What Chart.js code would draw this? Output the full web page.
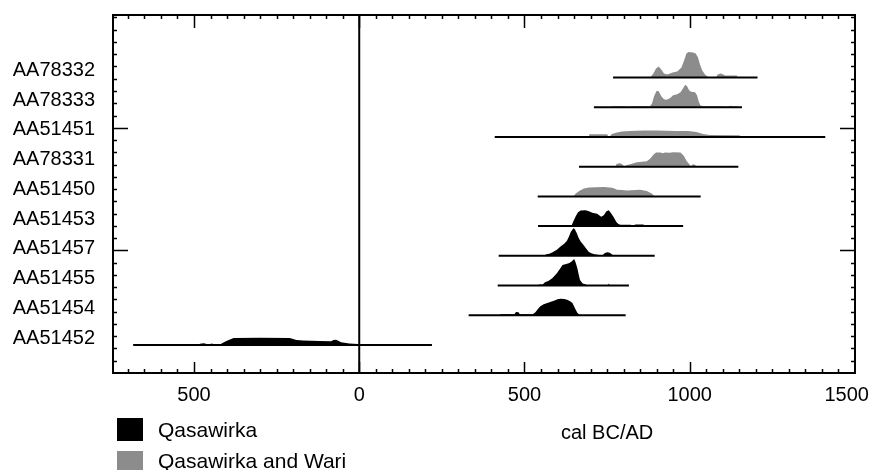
<!DOCTYPE html>
<html lang="en">
<head>
    <meta charset="UTF-8">
    <title>Calibrated dates</title>
    <script src="https://cdn.jsdelivr.net/npm/chart.js"></script>
    <style>
        body { margin: 0; background: #fff; }
        canvas { display: block; }
    </style>
</head>
<body>
    <canvas id="calChart" width="871" height="470"></canvas>
    <script>
        // samples, top to bottom
        const samples = ['AA78332', 'AA78333', 'AA51451', 'AA78331', 'AA51450',
                         'AA51453', 'AA51457', 'AA51455', 'AA51454', 'AA51452'];
        const sampleGroup = ['wari', 'wari', 'wari', 'wari', 'wari',
                             'qas', 'qas', 'qas', 'qas', 'qas'];
        const rangeStart = [768, 710, 410, 665, 540, 541, 422, 419, 331, -684];
        const rangeEnd = [1205, 1158, 1410, 1147, 1033, 980, 894, 816, 806, 220];

        const seriesNames = ['Qasawirka', 'Qasawirka and Wari'];
        const xTickValues = [-500, 0, 500, 1000, 1500];

        // probability curves: [year, relative density]
        const pAA78332 = [[880,0],[890,4],[898,9],[906,11],[914,8],[922,4],[932,3],[948,5],[962,6],[975,10],[984,18],[990,24],[996,25.5],[1010,25],[1018,24],[1025,20],[1031,13],[1038,7],[1046,3],[1054,1],[1058,0],[1080,0],[1084,3],[1094,4],[1102,3],[1106,2],[1142,2],[1146,0]];
        const pAA78333 = [[760,0],[765,1],[800,1],[812,0.5],[830,1],[880,1],[886,4],[892,11],[900,16.5],[906,16],[914,11],[922,8],[930,7.5],[940,9],[950,12],[962,13],[972,15],[980,19],[986,22.5],[992,21],[998,17],[1004,15.5],[1016,15],[1022,12],[1027,6],[1032,2],[1040,1],[1100,1],[1110,0.5],[1125,1.5],[1135,0.5],[1140,1.5],[1146,0]];
        const pAA51451 = [[695,0],[696,2.7],[750,2.7],[754,0.5],[758,0.5],[764,3],[780,4.5],[795,5.5],[820,6],[860,6.3],[900,6.3],[960,6],[995,6],[1020,5],[1040,3],[1060,2],[1150,1.7],[1158,0]];
        const pAA78331 = [[775,0],[779,3],[790,3.3],[797,2],[803,0],[808,1.5],[820,2.5],[840,4.3],[870,5.3],[880,8],[890,12],[898,14.3],[912,14.3],[918,13.3],[925,14.3],[940,14],[950,14.5],[972,14.3],[982,11],[990,6],[998,2.7],[1004,0.5],[1009,2.5],[1016,2],[1021,0]];
        const pAA51450 = [[648,0],[655,3],[668,6],[680,8],[695,9],[740,9.3],[765,8.7],[772,8],[780,6.7],[795,6.3],[810,6],[835,6.3],[850,6.7],[870,5.3],[885,3],[894,0]];
        const pAA51453 = [[642,0],[647,4],[655,10],[662,14],[670,15.7],[685,16],[695,15],[705,13.3],[720,12.3],[732,9.5],[740,11],[748,15],[755,16],[762,13],[770,9],[778,4],[784,2],[790,1.3],[822,1.3],[826,0.3],[836,1.7],[860,1.7],[864,0]];
        const pAA51457 = [[560,0],[566,1.5],[575,2],[585,3.7],[598,6],[609,9.3],[620,12],[628,15],[634,19],[640,24],[648,27.7],[652,27],[658,23],[664,18],[670,14.3],[678,11],[686,7.7],[694,4],[702,2.5],[712,1.5],[722,1],[735,0],[742,2.5],[750,3.7],[758,3],[766,1],[772,0]];
        const pAA51455 = [[540,0],[545,1],[555,1],[562,3.3],[572,4.5],[584,7.3],[598,12.3],[608,17],[615,20.7],[634,22.3],[642,24],[650,26.7],[654,24],[660,17.3],[664,11],[668,5.7],[676,2],[684,1.3],[690,0],[752,0],[755,2],[758,0]];
        const pAA51454 = [[425,0],[428,1],[470,1],[474,3.3],[482,3],[486,1],[525,1],[533,3],[540,6],[548,9],[558,11],[569,12.3],[580,13.5],[589,14.7],[600,16],[609,16.7],[620,16.3],[629,15.7],[638,14],[645,12.3],[650,9],[655,5.7],[660,2.5],[665,0.7],[670,0]];
        const pAA51452 = [[-485,0],[-482,1.2],[-470,1.7],[-462,1],[-450,1],[-446,1.5],[-440,0.8],[-420,0.8],[-415,1.7],[-405,3.5],[-395,5],[-380,7],[-300,7.2],[-210,7],[-200,6],[-190,5],[-170,4.5],[-120,4],[-85,3.7],[-78,5],[-70,5.3],[-62,4],[-55,2.7],[-30,1.5],[-5,1],[10,0.7],[15,0]];
        const curves = [pAA78332, pAA78333, pAA51451, pAA78331, pAA51450,
                        pAA51453, pAA51457, pAA51455, pAA51454, pAA51452];

        const colors = { qas: '#000000', wari: '#8c8c8c' };
        const densityScale = 1 / 29.8;

        Chart.defaults.font.family = "'Liberation Sans', Arial, Helvetica, sans-serif";
        Chart.defaults.font.size = 20;
        Chart.defaults.color = '#000';

        const datasets = [];
        samples.forEach((name, i) => {
            const row = samples.length - 1 - i;
            datasets.push({
                label: name + ' range',
                data: [{ x: rangeStart[i], y: row }, { x: rangeEnd[i], y: row }],
                borderColor: '#000',
                borderWidth: 2,
                pointRadius: 0,
                fill: false,
                order: 0
            });
            datasets.push({
                label: name,
                data: curves[i].map(p => ({ x: p[0], y: row + p[1] * densityScale })),
                backgroundColor: colors[sampleGroup[i]],
                borderColor: colors[sampleGroup[i]],
                borderWidth: 0,
                pointRadius: 0,
                fill: { value: row },
                order: 1
            });
        });

        // no automatic edge padding from the scales, layout.padding decides
        const noEdgePadding = s => {
            s.paddingTop = 0; s.paddingBottom = 0;
            s.paddingLeft = 0; s.paddingRight = 0;
        };

        // frame, inward ticks, zero line, axis title and key
        const framePlugin = {
            id: 'frame',
            afterDraw(chart) {
                const ctx = chart.ctx;
                const a = chart.chartArea;
                const x = chart.scales.x;
                const yt = chart.scales.yt;
                ctx.save();
                ctx.strokeStyle = '#000';
                ctx.lineWidth = 2;
                ctx.strokeRect(a.left, a.top, a.right - a.left, a.bottom - a.top);

                const x0 = x.getPixelForValue(0);
                ctx.beginPath();
                ctx.moveTo(x0, a.top);
                ctx.lineTo(x0, a.bottom);
                ctx.stroke();

                ctx.lineWidth = 1.5;
                ctx.beginPath();
                for (let v = -700; v < 1500; v += 50) {
                    const px = Math.round(x.getPixelForValue(v)) + 0.5;
                    const major = v % 500 === 0;
                    ctx.moveTo(px, a.top);
                    ctx.lineTo(px, a.top + (major ? 13 : 4));
                    ctx.moveTo(px, a.bottom);
                    ctx.lineTo(px, a.bottom - (major ? 11 : 4));
                }
                for (let k = 1; k < 30; k++) {
                    const py = Math.round(yt.getPixelForValue(k)) + 0.5;
                    const len = k % 10 === 0 ? 15 : 4;
                    ctx.moveTo(a.left, py);
                    ctx.lineTo(a.left + len, py);
                    ctx.moveTo(a.right, py);
                    ctx.lineTo(a.right - len, py);
                }
                ctx.stroke();

                ctx.fillStyle = '#000';
                ctx.font = "20px 'Liberation Sans', Arial, sans-serif";
                ctx.textAlign = 'center';
                ctx.textBaseline = 'middle';
                ctx.fillText('cal BC/AD', x.getPixelForValue(750), a.bottom + 60);

                ctx.font = "21px 'Liberation Sans', Arial, sans-serif";
                ctx.textAlign = 'left';
                const keyColors = [colors.qas, colors.wari];
                seriesNames.forEach((s, i) => {
                    const top = a.bottom + 45 + i * 33;
                    ctx.fillStyle = keyColors[i];
                    ctx.fillRect(a.left + 4, top, 26, 23);
                    ctx.fillStyle = '#000';
                    ctx.fillText(s, a.left + 45, top + 13 - i * 2);
                });
                ctx.restore();
            }
        };

        new Chart(document.getElementById('calChart'), {
            type: 'line',
            data: { datasets: datasets },
            options: {
                responsive: false,
                animation: false,
                layout: { padding: { left: 13, right: 16, top: 15, bottom: 53 } },
                plugins: {
                    legend: { display: false },
                    tooltip: { enabled: false }
                },
                scales: {
                    x: {
                        type: 'linear',
                        min: -745,
                        max: 1500,
                        grid: { display: false, drawTicks: false },
                        border: { display: false },
                        afterBuildTicks: s => { s.ticks = xTickValues.map(v => ({ value: v })); },
                        afterFit: noEdgePadding,
                        ticks: {
                            padding: 10,
                            maxRotation: 0,
                            // last label pulled in so it stays inside the canvas
                            callback: (v, i, t) => String(Math.abs(v)) + (i === t.length - 1 ? '\u00a0\u00a0\u00a0' : '')
                        }
                    },
                    y: {
                        type: 'linear',
                        min: -0.94,
                        max: 11.1,
                        grid: { display: false, drawTicks: false },
                        border: { display: false },
                        afterBuildTicks: s => { s.ticks = samples.map((_, i) => ({ value: i })); },
                        afterFit: s => { noEdgePadding(s); s.width = 100; },
                        ticks: {
                            padding: 18,
                            labelOffset: -7,
                            callback: v => samples[samples.length - 1 - v]
                        }
                    },
                    yt: {
                        type: 'linear',
                        axis: 'y',
                        position: 'right',
                        display: false,
                        min: 0,
                        max: 29.2
                    }
                }
            },
            plugins: [framePlugin]
        });
    </script>
</body>
</html>
